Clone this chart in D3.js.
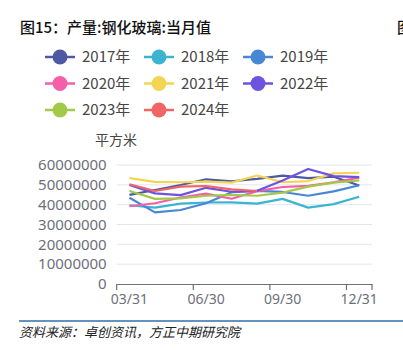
<!DOCTYPE html>
<html><head><meta charset="utf-8">
<script src="https://cdn.jsdelivr.net/npm/d3@7/dist/d3.min.js"></script>
<style>
html,body{margin:0;padding:0;background:#fff;}
svg{display:block;font-family:"Noto Sans CJK SC","Noto Sans",sans-serif;}
</style></head>
<body>
<svg id="c" width="403" height="350"></svg>
<script>
const categories = ["03/31","04/30","05/31","06/30","07/31","08/31","09/30","10/31","11/30","12/31"];
const tickLabels = ["03/31","06/30","09/30","12/31"];
const yTicks = [0,10000000,20000000,30000000,40000000,50000000,60000000];
const seriesNames = ["2017年","2018年","2019年","2020年","2021年","2022年","2023年","2024年"];
const seriesColors = ["#4f58a2","#3bb4cf","#4688d6","#f55ea8","#f4d552","#6e52e0","#a3c94a","#f26565"];
const v2017 = [44900000,47400000,49900000,52800000,51800000,53000000,54600000,53400000,54100000,49700000];
const v2018 = [39700000,38500000,40500000,41100000,41200000,40500000,42900000,38500000,40300000,44000000];
const v2019 = [43500000,36100000,37300000,40700000,46300000,47000000,46400000,44500000,46700000,49800000];
const v2020 = [39200000,40700000,43600000,45600000,43000000,46800000,48900000,49500000,51300000,53600000];
const v2021 = [53400000,51500000,51300000,51600000,51100000,54700000,51300000,51900000,55800000,56100000];
const v2022 = [49900000,45700000,44800000,48500000,46500000,47000000,52200000,58000000,54400000,53900000];
const v2023 = [46900000,42900000,43200000,44500000,44900000,44500000,46100000,49100000,51100000,52200000];
const v2024 = [50300000,46900000,49100000,49400000,47700000,46900000];
const seriesValues = [v2017,v2018,v2019,v2020,v2021,v2022,v2023,v2024];

const svg = d3.select("#c");
const plotL = 116.7, plotR = 372, plotT = 165, plotB = 284;

// Title
svg.append("text").attr("x",20).attr("y",33).attr("font-size",15).attr("font-weight",500)
  .attr("fill","#111").text("图15：产量:钢化玻璃:当月值");
svg.append("text").attr("x",397).attr("y",33).attr("font-size",15).attr("font-weight",500)
  .attr("fill","#111").text("图");

// Legend
const lg = svg.append("g");
seriesNames.forEach((n,i)=>{
  const col = i%3, row = Math.floor(i/3);
  const lx = 45 + col*99, ly = 57 + row*26.5;
  const g = lg.append("g").attr("transform",`translate(${lx},${ly})`);
  g.append("line").attr("x1",0).attr("x2",30).attr("y1",0).attr("y2",0)
    .attr("stroke",seriesColors[i]).attr("stroke-width",2.5);
  g.append("circle").attr("cx",15).attr("cy",0).attr("r",7.5).attr("fill",seriesColors[i]);
  g.append("text").attr("x",37).attr("y",0).attr("dy","0.36em").attr("font-size",15)
    .attr("fill","#464646").text(n);
});

// Scales
const x = d3.scaleBand().domain(categories).range([plotL,plotR]);
const y = d3.scaleLinear().domain([0,60000000]).range([plotB,plotT]);

// Unit label
svg.append("text").attr("x",116).attr("y",140).attr("dy","0.36em").attr("text-anchor","middle")
  .attr("font-size",14).attr("fill","#464646").text("平方米");

// Grid
svg.append("g").selectAll("line").data(yTicks.filter(d=>d>0)).join("line")
  .attr("x1",plotL).attr("x2",plotR).attr("y1",d=>y(d)).attr("y2",d=>y(d))
  .attr("stroke","#e0e6f1").attr("stroke-width",1);

// Y axis labels
const yAxis = d3.axisLeft(y).tickValues(yTicks).tickFormat(d3.format("d")).tickSize(0).tickPadding(10);
const ya = svg.append("g").attr("transform",`translate(${plotL},0)`).call(yAxis);
ya.select(".domain").remove();
ya.selectAll("text").attr("font-size",15).attr("fill","#6e7079")
  .attr("font-family","'Noto Sans','Noto Sans CJK SC',sans-serif");

// X axis
const xAxis = d3.axisBottom(x).tickValues(tickLabels).tickSize(0).tickPadding(10);
const xa = svg.append("g").attr("transform",`translate(0,${plotB})`).call(xAxis);
xa.select(".domain").attr("stroke","#6e7079").attr("stroke-width",1.2);
xa.selectAll("text").attr("font-size",14).attr("fill","#6e7079")
  .attr("font-family","'Noto Sans','Noto Sans CJK SC',sans-serif");
const tickPos = tickLabels.map(c=>x(c)).concat([plotR]);
xa.selectAll("line.tk").data(tickPos).join("line").attr("class","tk")
  .attr("x1",d=>d).attr("x2",d=>d).attr("y1",0).attr("y2",6)
  .attr("stroke","#6e7079").attr("stroke-width",1.2);

// Lines
const line = d3.line().x((d,i)=>x(categories[i])+x.bandwidth()/2).y(d=>y(d));
svg.append("g").selectAll("path").data(seriesValues).join("path")
  .attr("d",d=>line(d)).attr("fill","none")
  .attr("stroke",(d,i)=>seriesColors[i]).attr("stroke-width",2.2)
  .attr("stroke-linejoin","round");

// Footer
svg.append("line").attr("x1",19).attr("x2",403).attr("y1",321).attr("y2",321)
  .attr("stroke","#2f6fa8").attr("stroke-width",1.5);
svg.append("text").attr("x",19).attr("y",337).attr("font-size",13).attr("font-style","italic")
  .attr("fill","#222").text("资料来源：卓创资讯，方正中期研究院");
</script>
</body></html>
